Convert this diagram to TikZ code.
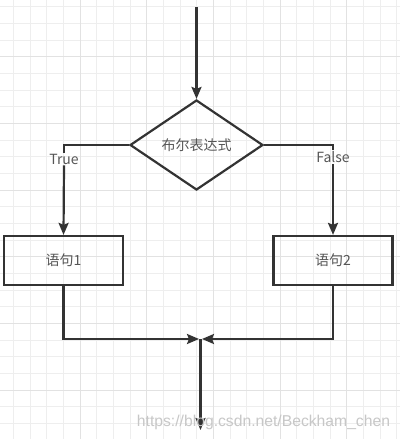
\documentclass[tikz,border=0pt]{standalone}
\usepackage{fontspec}
\setmainfont{Noto Sans CJK SC}
\newfontfamily\wmfont{Liberation Sans}
\usetikzlibrary{shapes.geometric,arrows.meta}
\definecolor{gridminor}{HTML}{EEEEEE}
\definecolor{gridmajor}{HTML}{E2E2E2}
\definecolor{linec}{HTML}{333333}
\definecolor{textc}{HTML}{555555}
\tikzset{
  flow/.style={draw=linec, line width=2.2pt, -{Stealth[length=12pt,width=10pt,inset=2pt]}},
  plain/.style={draw=linec, line width=2.2pt},
  stmt/.style={draw=linec, line width=2.2pt, rectangle, minimum width=119pt, minimum height=49pt, inner sep=0pt, text=textc, font=\fontsize{14}{16}\selectfont},
  cond/.style={draw=linec, line width=2.2pt, diamond, minimum width=133pt, minimum height=90pt, inner sep=0pt, text=textc, font=\fontsize{14}{16}\selectfont},
  lbl/.style={text=textc, inner sep=1pt, font=\fontsize{14}{16}\selectfont},
}
\begin{document}
\begin{tikzpicture}[x=1pt,y=-1pt]
\useasboundingbox (0,0) rectangle (400,439);
\fill[white] (0,0) rectangle (400,439);
% grid
\foreach \i in {0,...,25} {
  \pgfmathsetmacro{\gx}{13.3+16.67*\i}
  \pgfmathsetmacro{\gy}{6.7+16.67*\i}
  \draw[gridminor, line width=0.8pt] (\gx,0) -- (\gx,439);
  \draw[gridminor, line width=0.8pt] (0,\gy) -- (400,\gy);
}
\foreach \gx in {80,146.7,213.3,280,346.7} \draw[gridmajor, line width=1pt] (\gx,0) -- (\gx,439);
\foreach \gy in {56.7,123.3,190,256.7,323.3,390} \draw[gridmajor, line width=1pt] (0,\gy) -- (400,\gy);

% nodes
\node[cond] (d) at (196.5,145) {布尔表达式};
\node[stmt] (b1) at (63.5,260.5) {语句1};
\node[stmt] (b2) at (333,260.5) {语句2};
\node[lbl] (t) at (64,159) {True};
\node[lbl] (f) at (333,157) {False};

\coordinate (start) at (196.5,7);
\coordinate (mL) at (199,339);
\coordinate (mR) at (202,339);
\coordinate (mid) at (200.5,339);
\coordinate (end) at (200.5,430);

% connectors
\draw[flow] (start) -- (d.north);
\draw[plain] (d.west) -| (t.north);
\draw[flow] (t.south) -- (b1.north);
\draw[plain] (d.east) -| (f.north);
\draw[flow] (f.south) -- (b2.north);
\draw[flow] (b1.south) |- (mL);
\draw[flow] (b2.south) |- (mR);
\draw[flow] (mid) -- (end);

% watermark
\node[text=black!22, inner sep=0pt, font=\wmfont\fontsize{15.7}{17}\selectfont] (wm) at (263.5,422) {https://blog.csdn.net/Beckham\_chen};
\end{tikzpicture}
\end{document}
